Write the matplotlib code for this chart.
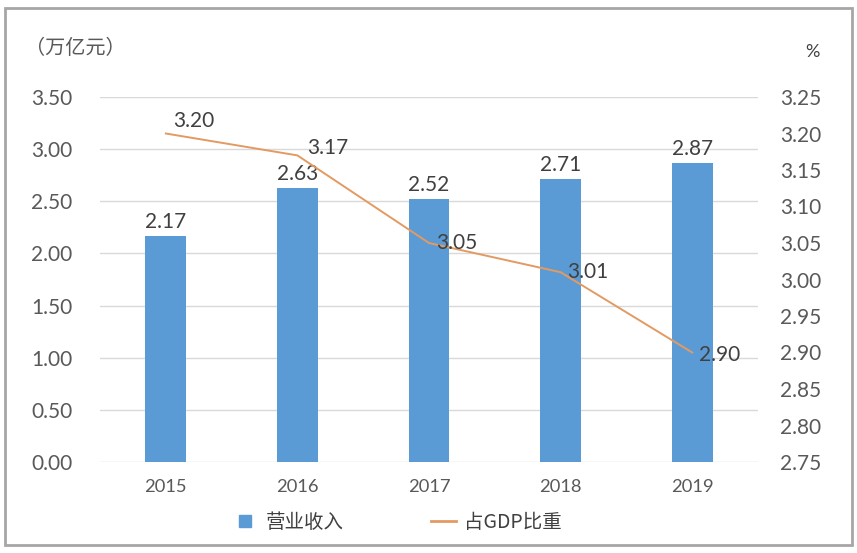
import matplotlib
matplotlib.use("Agg")
import matplotlib.pyplot as plt
from matplotlib.lines import Line2D
from matplotlib.patches import Rectangle

years = ["2015", "2016", "2017", "2018", "2019"]
revenue = [2.17, 2.63, 2.52, 2.71, 2.87]
gdp_share = [3.20, 3.17, 3.05, 3.01, 2.90]
left_ticks = [0.00, 0.50, 1.00, 1.50, 2.00, 2.50, 3.00, 3.50]
right_ticks = [2.75, 2.80, 2.85, 2.90, 2.95, 3.00, 3.05, 3.10, 3.15, 3.20, 3.25]
line_label_offsets = [(5, 9), (7, 5), (5, 0), (5, 0), (5, -2)]

BLUE = "#5B9BD5"
ORANGE = "#E39A62"
TICK = "#595959"
LABEL = "#404040"
NUM = ["Lato", "Noto Sans CJK SC"]
CJK = ["Noto Sans CJK SC", "DejaVu Sans"]

W, H = 857, 553
fig = plt.figure(figsize=(W / 100, H / 100), dpi=100)
fig.patch.set_facecolor("white")

ax = fig.add_axes([100 / W, 1 - 462 / H, 658 / W, 365 / H])
x = list(range(len(years)))
ax.bar(x, revenue, width=0.31, color=BLUE, zorder=2)
ax.set_xlim(-0.5, len(years) - 0.5)
ax.set_ylim(0, 3.5)
ax.set_yticks(left_ticks)
ax.set_yticklabels([f"{v:.2f}" for v in left_ticks], fontfamily=NUM, fontsize=15, color=TICK)
ax.set_xticks(x)
ax.set_xticklabels(years, fontfamily=NUM, fontsize=13.2, color=TICK)
ax.tick_params(axis="y", length=0, pad=20)
ax.tick_params(axis="x", length=0, pad=12)
ax.grid(axis="y", color="#d9d9d9", linewidth=1, zorder=0)
for s in ax.spines.values():
    s.set_visible(False)
ax.set_axisbelow(True)

for xi, v in zip(x, revenue):
    ax.annotate(f"{v:.2f}", (xi, v), xytext=(0, 3), textcoords="offset points",
                ha="center", va="bottom", fontfamily=NUM, fontsize=15, color=LABEL)

ax2 = ax.twinx()
ax2.set_ylim(2.75, 3.25)
ax2.set_yticks(right_ticks)
ax2.set_yticklabels([f"{v:.2f}" for v in right_ticks], fontfamily=NUM, fontsize=15, color=TICK)
ax2.tick_params(axis="y", length=0, pad=16)
for s in ax2.spines.values():
    s.set_visible(False)
ax2.plot(x, gdp_share, color=ORANGE, linewidth=1.4, zorder=3)
for xi, v, (dx, dy) in zip(x, gdp_share, line_label_offsets):
    ax2.annotate(f"{v:.2f}", (xi, v), xytext=(dx, dy), textcoords="offset points",
                 ha="left", va="center", fontfamily=NUM, fontsize=15, color=LABEL, zorder=4)

fig.text(25 / W, 1 - 48 / H, "（万亿元）", fontfamily=CJK, fontsize=14.5, color=TICK,
         ha="left", va="center")
fig.text(812 / W, 1 - 52 / H, "%", fontfamily=NUM, fontsize=13, color=LABEL,
         ha="center", va="center")

handles = [Line2D([], [], marker="s", linestyle="", color=BLUE, markersize=8),
           Line2D([], [], color=ORANGE, linewidth=2)]
fig.legend(handles, ["营业收入", "占GDP比重"], loc="center", ncol=2,
           bbox_to_anchor=(397 / W, 1 - 522 / H), frameon=False,
           prop={"family": CJK, "size": 14}, labelcolor=LABEL,
           handlelength=1.3, handletextpad=0.4, columnspacing=4.5)

fig.add_artist(Rectangle((5 / W, 1 - 545 / H), 847 / W, 537 / H, transform=fig.transFigure,
                         fill=False, edgecolor="#a6a6a6", linewidth=2))

fig.savefig("out.png", dpi=100, facecolor="white")
